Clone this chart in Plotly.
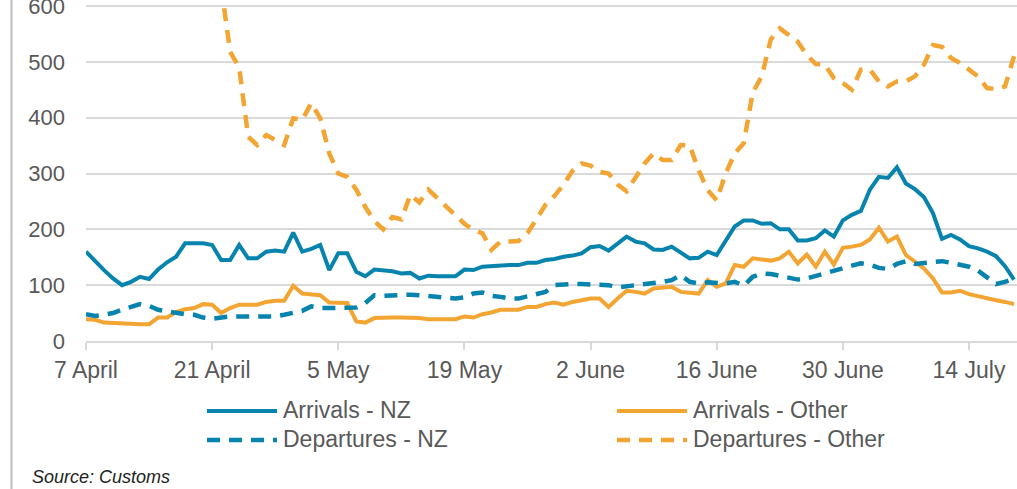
import pandas as pd
import plotly.graph_objects as go

start_date = "2020-04-07"
n_days = 104
dates = pd.date_range(start_date, periods=n_days, freq="D")

arrivals_nz = [160, 143, 127, 112, 100, 106, 115, 111, 128, 141, 151, 175, 175, 175, 172, 145, 145, 172, 148, 148,
               160, 162, 160, 194, 160, 165, 172, 127, 157, 157, 124, 116, 128, 126, 125, 121, 122, 112, 117, 116,
               116, 116, 128, 127, 133, 134, 136, 136, 136, 140, 140, 145, 147, 151, 153, 157, 168, 170, 162, 175,
               187, 178, 175, 164, 163, 169, 158, 148, 149, 160, 154, 178, 205, 216, 216, 210, 211, 200, 200, 180,
               180, 184, 198, 187, 216, 226, 233, 271, 294, 292, 311, 282, 272, 258, 229, 183, 190, 182, 170, 166,
               160, 152, 134, 110]

arrivals_other = [39, 38, 33, 32, 31, 30, 30, 30, 42, 42, 52, 57, 59, 66, 65, 50, 59, 65, 65, 65,
                  70, 72, 72, 99, 85, 83, 82, 69, 68, 68, 35, 33, 41, 42, 42, 42, 42, 41, 39, 39,
                  39, 39, 44, 42, 48, 51, 56, 56, 56, 61, 61, 66, 69, 65, 70, 73, 76, 76, 61, 76,
                  90, 88, 85, 94, 95, 97, 88, 86, 85, 109, 97, 103, 136, 133, 148, 146, 144, 148, 160, 139,
                  155, 133, 160, 137, 167, 169, 172, 182, 203, 178, 187, 154, 142, 130, 112, 87, 87, 90, 84, 80,
                  76, 73, 70, 66]

departures_nz = [48, 45, 47, 50, 56, 60, 66, 63, 56, 53, 50, 48, 47, 42, 40, 43, 44, 44, 44, 43,
                 42, 44, 47, 50, 54, 62, 59, 59, 59, 60, 60, 68, 82, 81, 82, 84, 83, 82, 80, 79,
                 77, 76, 78, 85, 87, 81, 79, 76, 76, 80, 84, 88, 100, 102, 102, 102, 102, 102, 100, 96,
                 98, 100, 100, 104, 106, 109, 118, 106, 103, 105, 104, 103, 106, 99, 115, 121, 120, 116, 113, 110,
                 112, 117, 121, 126, 130, 135, 139, 137, 131, 129, 138, 143, 138, 140, 142, 143, 140, 136, 133, 126,
                 115, 102, 106, 112]

# values for the first days lie above the visible top of the chart and cannot be read
departures_other = [None] * 15 + [635, 518, 490, 366, 351,
                    369, 360, 351, 399, 396, 426, 399, 336, 300, 294, 271, 240, 215, 200, 222, 218, 262, 248, 271, 256,
                    240, 224, 210, 199, 193, 163, 178, 178, 179, 193, 217, 244, 260, 280, 305, 318, 314, 303, 300, 280,
                    268, 292, 318, 336, 324, 324, 351, 350, 306, 270, 252, 300, 336, 354, 445, 474, 540, 560, 548, 536,
                    512, 496, 495, 471, 462, 450, 486, 486, 465, 456, 465, 465, 474, 495, 530, 527, 507, 498, 486, 474,
                    453, 451, 456, 510]

series_names = ["Arrivals - NZ", "Arrivals - Other", "Departures - NZ", "Departures - Other"]
tick_dates = pd.date_range(start_date, periods=8, freq="14D")
tick_labels = ["7 April", "21 April", "5 May", "19 May", "2 June", "16 June", "30 June", "14 July"]
y_ticks = [0, 100, 200, 300, 400, 500, 600]

BLUE = "#0784AE"
ORANGE = "#F3A533"
GREY_TXT = "#595959"
GRID = "#D9D9D9"
FONT = "Liberation Sans, Arial, sans-serif"
DASH = "13px,9px"

styles = [
    dict(color=BLUE, width=4, dash="solid"),
    dict(color=ORANGE, width=4, dash="solid"),
    dict(color=BLUE, width=4.5, dash=DASH),
    dict(color=ORANGE, width=4.5, dash=DASH),
]

fig = go.Figure()
for name, vals, st in zip(series_names, [arrivals_nz, arrivals_other, departures_nz, departures_other], styles):
    fig.add_trace(go.Scatter(x=dates, y=vals, name=name, mode="lines", line=st,
                             connectgaps=False, showlegend=False))

W, H = 1017, 489
L, T, B = 86, 0, 148
plot_w = W - L
plot_h = H - T - B
px_per_day = 9.01
end_date = pd.Timestamp(start_date) + pd.Timedelta(days=plot_w / px_per_day)


def px(xp):
    return (xp - L) / plot_w


def py(yp):
    return (H - B - yp) / plot_h


# manual legend
legend_items = [
    (series_names[0], styles[0], 207, 411),
    (series_names[2], styles[2], 207, 440),
    (series_names[1], styles[1], 617, 411),
    (series_names[3], styles[3], 617, 440),
]
shapes = []
annotations = []
for name, st, x0, yc in legend_items:
    shapes.append(dict(type="line", xref="paper", yref="paper", x0=px(x0), x1=px(x0 + 70),
                       y0=py(yc), y1=py(yc), line=dict(color=st["color"], width=st["width"], dash=st["dash"])))
    annotations.append(dict(text=name, xref="paper", yref="paper", x=px(x0 + 74), y=py(yc - 1),
                            xanchor="left", yanchor="middle", showarrow=False,
                            font=dict(family=FONT, size=23, color=GREY_TXT)))

annotations.append(dict(text="<i>Source: Customs</i>", xref="paper", yref="paper", x=px(30), y=py(477),
                        xanchor="left", yanchor="middle", showarrow=False,
                        font=dict(family=FONT, size=18, color="#222222")))

# outer frame line on the left
shapes.append(dict(type="line", xref="paper", yref="paper", x0=px(11.5), x1=px(11.5), y0=py(H + 2), y1=py(-2),
                   line=dict(color="#BDBDBD", width=2)))

fig.update_layout(
    width=W, height=H,
    margin=dict(l=L, r=0, t=T, b=B, autoexpand=False),
    paper_bgcolor="white", plot_bgcolor="white",
    font=dict(family=FONT, color=GREY_TXT),
    shapes=shapes, annotations=annotations,
    showlegend=False,
)
fig.update_xaxes(
    type="date", range=[pd.Timestamp(start_date), end_date],
    tickvals=tick_dates, ticktext=tick_labels,
    showgrid=False, zeroline=False, automargin=False,
    showline=True, linecolor=GRID, linewidth=2,
    ticks="outside", ticklen=7, tickwidth=2, tickcolor=GRID,
    tickfont=dict(family=FONT, size=23, color=GREY_TXT),
    ticklabelstandoff=0, ticklabeloverflow="allow",
)
fig.update_yaxes(
    range=[0, 600 * 340.7 / 334.7], tickvals=y_ticks,
    showgrid=True, gridcolor=GRID, gridwidth=2,
    zeroline=False, showline=False, ticks="", automargin=False,
    tickfont=dict(family=FONT, size=22, color=GREY_TXT),
    ticklabelstandoff=20, ticklabeloverflow="allow",
)

fig.write_html("out.html", config={"displayModeBar": False},
               post_script="document.body.style.margin='0';document.body.style.overflow='hidden';")
